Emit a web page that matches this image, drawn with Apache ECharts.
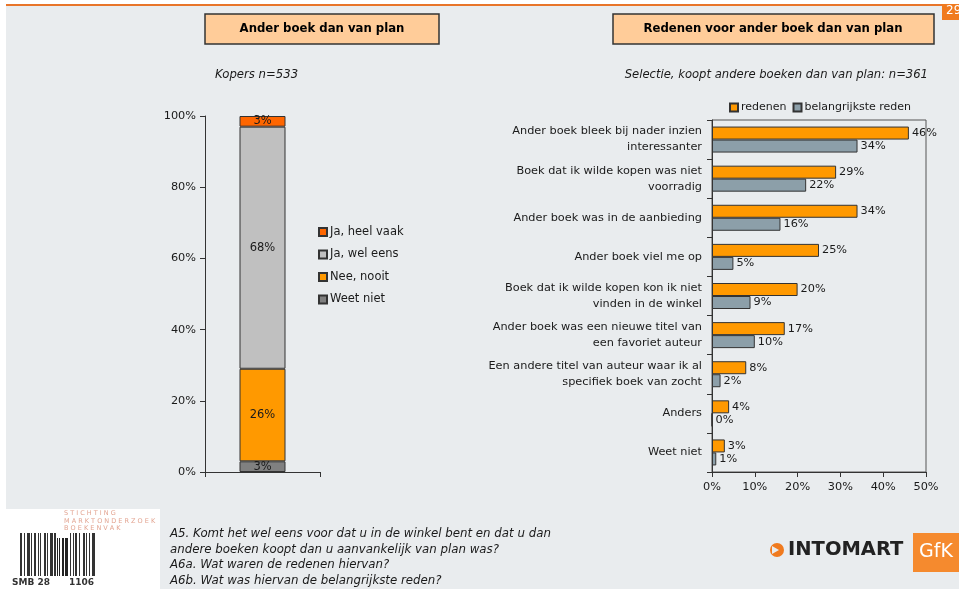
<!DOCTYPE html>
<html>
<head>
<meta charset="utf-8">
<script src="https://cdn.jsdelivr.net/npm/echarts@6/dist/echarts.min.js"></script>
<style>
  html, body { margin: 0; padding: 0; background: #ffffff; }
  #chart { width: 959px; height: 589px; }
</style>
</head>
<body>
<div id="chart"></div>
<script>
// Left panel: how often buyers end up with another book than planned (stacked, %)
const freqCategory = [''];
const freqWeetNiet = [3];
const freqNeeNooit = [26];
const freqWelEens = [68];
const freqHeelVaak = [3];
const freqTicks = [0, 20, 40, 60, 80, 100];

// Right panel: reasons (%)
const reasonCategories = [
  'Ander boek bleek bij nader inzien\ninteressanter',
  'Boek dat ik wilde kopen was niet\nvoorradig',
  'Ander boek was in de aanbieding',
  'Ander boek viel me op',
  'Boek dat ik wilde kopen kon ik niet\nvinden in de winkel',
  'Ander boek was een nieuwe titel van\neen favoriet auteur',
  'Een andere titel van auteur waar ik al\nspecifiek boek van zocht',
  'Anders',
  'Weet niet'
];
const redenen = [46, 29, 34, 25, 20, 17, 8, 4, 3];
const belangrijksteReden = [34, 22, 16, 5, 9, 10, 2, 0, 1];
const reasonTicks = [0, 10, 20, 30, 40, 50];

const FONT = 'DejaVu Sans';
const TXT = '#1a1a1a';

// Decorative barcode stripes (widths in px, alternating bar / gap)
const barcodePattern = [2,2,1,2,3,1,1,2,2,2,1,1,1,3,2,1,1,2,3,1,2,1,1,1,1,2,2,1,3,2,1,2,1,1,2,2,1,3,2,1,1,2,1,2,3,1];

function barcodeShapes() {
  const shapes = [];
  let x = 20;
  for (let i = 0; i < barcodePattern.length; i++) {
    const w = barcodePattern[i];
    if (i % 2 === 0) {
      const mid = x > 54 && x < 70;
      shapes.push({
        type: 'rect',
        shape: { x: x, y: mid ? 538 : 533, width: w, height: mid ? 38 : 43 },
        style: { fill: mid ? '#222' : '#333' }
      });
    }
    x += w;
  }
  return shapes;
}

const chart = echarts.init(document.getElementById('chart'), null, { renderer: 'canvas' });

const option = {
  backgroundColor: '#ffffff',
  animation: false,
  textStyle: { fontFamily: FONT, color: TXT },
  graphic: [
    // page background
    { type: 'rect', z: -10, shape: { x: 6, y: 6, width: 953, height: 583 }, style: { fill: '#e9ecee' } },
    { type: 'rect', z: -9, shape: { x: 6, y: 4, width: 953, height: 2 }, style: { fill: '#e8752a' } },
    // page number
    { type: 'rect', shape: { x: 942, y: 4, width: 17, height: 16 }, style: { fill: '#f07a1e' } },
    { type: 'text', x: 946, y: 5, style: { text: '29', fill: '#ffffff', font: '12px ' + FONT } },
    // panel titles
    { type: 'rect', shape: { x: 205, y: 14, width: 234, height: 30 }, style: { fill: '#ffcc99', stroke: '#333', lineWidth: 1.5 } },
    { type: 'text', x: 322, y: 29, style: { text: 'Ander boek dan van plan', fill: '#000', font: 'bold 11.7px ' + FONT, align: 'center', verticalAlign: 'middle' } },
    { type: 'rect', shape: { x: 613, y: 14, width: 321, height: 30 }, style: { fill: '#ffcc99', stroke: '#333', lineWidth: 1.5 } },
    { type: 'text', x: 773, y: 29, style: { text: 'Redenen voor ander boek dan van plan', fill: '#000', font: 'bold 11.7px ' + FONT, align: 'center', verticalAlign: 'middle' } },
    // subtitles
    { type: 'text', x: 215, y: 75, style: { text: 'Kopers n=533', fill: TXT, font: 'italic 11.7px ' + FONT, verticalAlign: 'middle' } },
    { type: 'text', x: 928, y: 75, style: { text: 'Selectie, koopt andere boeken dan van plan: n=361', fill: TXT, font: 'italic 11.6px ' + FONT, align: 'right', verticalAlign: 'middle' } },
    // question text
    { type: 'text', x: 170, y: 526, style: { text: 'A5. Komt het wel eens voor dat u in de winkel bent en dat u dan\nandere boeken koopt dan u aanvankelijk van plan was?\nA6a. Wat waren de redenen hiervan?\nA6b. Wat was hiervan de belangrijkste reden?', fill: TXT, font: 'italic 11.8px ' + FONT, lineHeight: 15.7 } },
    // foundation logo
    { type: 'rect', z: -5, shape: { x: 6, y: 509, width: 154, height: 80 }, style: { fill: '#ffffff' } },
    { type: 'text', x: 64, y: 510, style: { text: 'S T I C H T I N G\nM A R K T O N D E R Z O E K\nB O E K E N V A K', fill: '#e3a592', font: '6.5px ' + FONT, lineHeight: 7.5 } },
    { type: 'group', children: barcodeShapes() },
    { type: 'rect', shape: { x: 10, y: 577, width: 46, height: 12 }, style: { fill: '#ffffff' } },
    { type: 'rect', shape: { x: 66, y: 577, width: 40, height: 12 }, style: { fill: '#ffffff' } },
    { type: 'text', x: 12, y: 578, style: { text: 'SMB 28', fill: '#333', font: 'bold 9px ' + FONT } },
    { type: 'text', x: 69, y: 578, style: { text: '1106', fill: '#333', font: 'bold 9px ' + FONT } },
    // company logo
    { type: 'circle', shape: { cx: 777, cy: 550, r: 7 }, style: { fill: '#f07a1e' } },
    { type: 'polygon', shape: { points: [[772, 546], [779, 550], [772, 554]] }, style: { fill: '#e9ecee' } },
    { type: 'text', x: 788, y: 550, style: { text: 'INTOMART', fill: '#222', font: 'bold 19.5px ' + FONT, verticalAlign: 'middle' } },
    { type: 'rect', shape: { x: 913, y: 533, width: 46, height: 39 }, style: { fill: '#f58a2e' } },
    { type: 'text', x: 936, y: 552, style: { text: 'GfK', fill: '#ffffff', font: '19px ' + FONT, align: 'center', verticalAlign: 'middle' } }
  ],
  legend: [
    {
      data: ['Ja, heel vaak', 'Ja, wel eens', 'Nee, nooit', 'Weet niet'],
      orient: 'vertical',
      left: 313,
      top: 221,
      itemWidth: 8,
      itemHeight: 8,
      itemGap: 10.5,
      icon: 'rect',
      textStyle: { fontFamily: FONT, fontSize: 11.5, color: TXT, padding: [0, 0, 0, -2] }
    },
    {
      data: ['redenen', 'belangrijkste reden'],
      orient: 'horizontal',
      left: 724,
      top: 97,
      itemWidth: 8,
      itemHeight: 8,
      itemGap: 6,
      icon: 'rect',
      textStyle: { fontFamily: FONT, fontSize: 11, color: TXT, padding: [0, 0, 0, -2] }
    }
  ],
  grid: [
    { left: 205, top: 116, width: 115, height: 356, containLabel: false },
    { left: 712, top: 120, width: 214, height: 352, containLabel: false, show: true, borderColor: '#555', borderWidth: 1, backgroundColor: 'transparent' }
  ],
  xAxis: [
    {
      gridIndex: 0,
      type: 'category',
      data: freqCategory,
      axisLine: { lineStyle: { color: '#333', width: 1 } },
      axisTick: { show: true, length: 5, lineStyle: { color: '#333' } },
      axisLabel: { show: false }
    },
    {
      gridIndex: 1,
      type: 'value',
      min: reasonTicks[0],
      max: reasonTicks[reasonTicks.length - 1],
      interval: 10,
      axisLine: { show: true, lineStyle: { color: '#333', width: 1 } },
      axisTick: { show: true, length: 5, lineStyle: { color: '#333' } },
      splitLine: { show: false },
      axisLabel: { formatter: '{value}%', fontFamily: FONT, fontSize: 11.3, color: TXT, margin: 10 }
    }
  ],
  yAxis: [
    {
      gridIndex: 0,
      type: 'value',
      min: freqTicks[0],
      max: freqTicks[freqTicks.length - 1],
      interval: 20,
      axisLine: { show: true, lineStyle: { color: '#333', width: 1 } },
      axisTick: { show: true, length: 5, lineStyle: { color: '#333' } },
      splitLine: { show: false },
      axisLabel: { formatter: '{value}%', fontFamily: FONT, fontSize: 11.3, color: TXT, margin: 9 }
    },
    {
      gridIndex: 1,
      type: 'category',
      inverse: true,
      data: reasonCategories,
      axisLine: { show: true, lineStyle: { color: '#333', width: 1 } },
      axisTick: { show: true, length: 5, interval: 0, lineStyle: { color: '#333' } },
      axisLabel: { fontFamily: FONT, fontSize: 11.3, color: TXT, lineHeight: 16, margin: 10, interval: 0, align: 'right' }
    }
  ],
  series: [
    {
      name: 'Weet niet', type: 'bar', stack: 'freq', xAxisIndex: 0, yAxisIndex: 0,
      data: freqWeetNiet, barWidth: 46,
      itemStyle: { color: '#808080', borderColor: '#333', borderWidth: 1 },
      label: { show: true, position: 'inside', formatter: '{c}%', fontFamily: FONT, fontSize: 11.5, color: TXT }
    },
    {
      name: 'Nee, nooit', type: 'bar', stack: 'freq', xAxisIndex: 0, yAxisIndex: 0,
      data: freqNeeNooit, barWidth: 46,
      itemStyle: { color: '#ff9900', borderColor: '#333', borderWidth: 1 },
      label: { show: true, position: 'inside', formatter: '{c}%', fontFamily: FONT, fontSize: 11.5, color: TXT }
    },
    {
      name: 'Ja, wel eens', type: 'bar', stack: 'freq', xAxisIndex: 0, yAxisIndex: 0,
      data: freqWelEens, barWidth: 46,
      itemStyle: { color: '#c0c0c0', borderColor: '#333', borderWidth: 1 },
      label: { show: true, position: 'inside', formatter: '{c}%', fontFamily: FONT, fontSize: 11.5, color: TXT }
    },
    {
      name: 'Ja, heel vaak', type: 'bar', stack: 'freq', xAxisIndex: 0, yAxisIndex: 0,
      data: freqHeelVaak, barWidth: 46,
      itemStyle: { color: '#ff6600', borderColor: '#333', borderWidth: 1 },
      label: { show: true, position: 'inside', formatter: '{c}%', fontFamily: FONT, fontSize: 11.5, color: TXT }
    },
    {
      name: 'redenen', type: 'bar', xAxisIndex: 1, yAxisIndex: 1,
      data: redenen, barWidth: 13, barGap: '0%',
      itemStyle: { color: '#ff9900', borderColor: '#333', borderWidth: 1 },
      label: { show: true, position: 'right', distance: 3, formatter: '{c}%', fontFamily: FONT, fontSize: 11.3, color: TXT }
    },
    {
      name: 'belangrijkste reden', type: 'bar', xAxisIndex: 1, yAxisIndex: 1,
      data: belangrijksteReden, barWidth: 13, barGap: '0%',
      itemStyle: { color: '#8c9fa9', borderColor: '#333', borderWidth: 1 },
      label: { show: true, position: 'right', distance: 3, formatter: '{c}%', fontFamily: FONT, fontSize: 11.3, color: TXT }
    }
  ]
};

chart.setOption(option);
</script>
</body>
</html>
